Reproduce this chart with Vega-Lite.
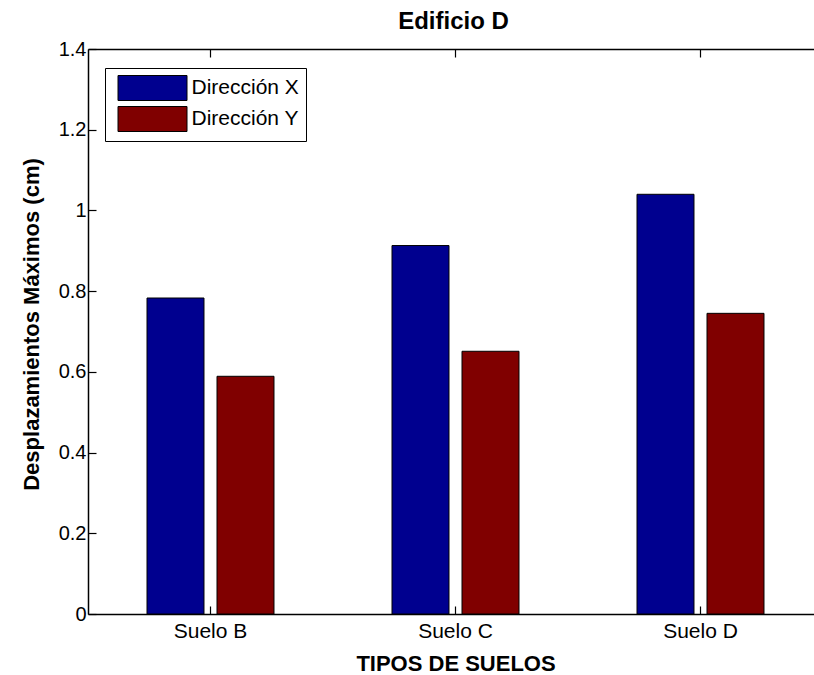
{
  "$schema": "https://vega.github.io/schema/vega-lite/v6.json",
  "width": 726,
  "height": 565,
  "autosize": {"type": "none"},
  "padding": {"left": 88, "top": 49, "right": 0, "bottom": 61},
  "background": "white",
  "data": {"values": [
    {"suelo": "Suelo B", "direccion": "Dirección X", "valor": 0.783},
    {"suelo": "Suelo B", "direccion": "Dirección Y", "valor": 0.589},
    {"suelo": "Suelo C", "direccion": "Dirección X", "valor": 0.913},
    {"suelo": "Suelo C", "direccion": "Dirección Y", "valor": 0.651},
    {"suelo": "Suelo D", "direccion": "Dirección X", "valor": 1.040},
    {"suelo": "Suelo D", "direccion": "Dirección Y", "valor": 0.745}
  ]},
  "config": {
    "view": {"stroke": null},
    "axis": {"domainColor": "black", "tickColor": "black", "labelColor": "black", "titleColor": "black", "domainWidth": 1.5, "tickWidth": 1.2, "grid": false, "labelFont": "Liberation Sans", "labelFontSize": 20, "titleFont": "Liberation Sans", "titleFontSize": 22, "titleFontWeight": "bold"}
  },
  "layer": [
    {
      "mark": {"type": "bar", "stroke": "black", "strokeWidth": 1},
      "encoding": {
        "x": {"field": "suelo", "type": "nominal", "sort": ["Suelo B", "Suelo C", "Suelo D"],
              "scale": {"range": [0, 735], "paddingInner": 0, "paddingOuter": 0},
              "axis": {"orient": "bottom", "title": "TIPOS DE SUELOS", "labelAngle": 0, "tickSize": -8, "labelPadding": 14, "labelFontSize": 21, "titleY": 56, "titleBaseline": "alphabetic"}},
        "xOffset": {"field": "direccion", "type": "nominal", "scale": {"paddingInner": 0.186, "paddingOuter": 0.843}},
        "y": {"field": "valor", "type": "quantitative", "scale": {"domain": [0, 1.4], "nice": false},
              "axis": {"title": "Desplazamientos Máximos (cm)", "values": [0, 0.2, 0.4, 0.6, 0.8, 1, 1.2, 1.4], "format": "~g", "tickSize": -8, "labelPadding": 10, "titleX": -50, "titleY": 275, "titleBaseline": "alphabetic", "titleAngle": 270}},
        "color": {"field": "direccion", "type": "nominal", "scale": {"range": ["#00008F", "#800000"]},
                  "legend": {"orient": "none", "legendX": 17, "legendY": 19, "title": null, "symbolType": "M-2.76,-1H2.76V1H-2.76Z", "symbolSize": 625, "symbolStrokeColor": "black", "symbolStrokeWidth": 1, "symbolOpacity": 1, "symbolOffset": 27.5, "labelOffset": 26, "labelFont": "Liberation Sans", "labelFontSize": 21, "labelColor": "black", "padding": 7, "strokeColor": "black", "fillColor": "white", "rowPadding": 1}}
      }
    },
    {
      "mark": {"type": "rule", "strokeOpacity": 0},
      "encoding": {
        "x": {"field": "suelo", "type": "nominal", "sort": ["Suelo B", "Suelo C", "Suelo D"],
              "axis": {"orient": "top", "title": "Edificio D", "titleFontSize": 24, "titleX": 365, "titleY": -21, "titleBaseline": "alphabetic", "labels": false, "tickSize": -8}}
      }
    }
  ],
  "resolve": {"axis": {"x": "independent"}}
}
